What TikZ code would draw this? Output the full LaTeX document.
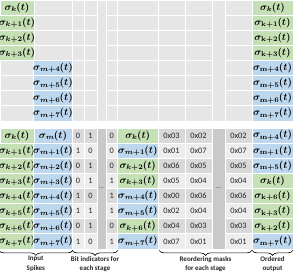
\documentclass[tikz,border=0pt]{standalone}
\usepackage{fontspec}
\setmainfont{Carlito}
\usepackage{bm}
\usetikzlibrary{decorations.pathreplacing}
\definecolor{gcell}{HTML}{C5E0B4}
\definecolor{bcell}{HTML}{BDD7EE}
\definecolor{tgray}{HTML}{E6E6E6}
\definecolor{dgray}{HTML}{D9D9D9}
\definecolor{lgray}{HTML}{EDEDED}
\definecolor{mgray}{HTML}{C9C9C9}
\definecolor{txt}{HTML}{262626}
\newcommand\cellat[7]{\node[cell,#6,minimum width={#3-#2},minimum height={#5-#4}] (#1) at ({(#2+#3)/2},{(#4+#5)/2}) {#7};}
\newcommand\sig[1]{$\bm{\sigma_{#1}\mkern-1mu(t)}$}
\begin{document}
\begin{tikzpicture}[x=1pt,y=-1pt,
  cell/.style={draw=white,line width=0.8pt,inner sep=0pt,anchor=center,font=\fontsize{8.3}{9}\selectfont,text=txt},
  sg/.style={font=\fontsize{9.8}{11}\selectfont,text=black},
  lab/.style={font=\bfseries\fontsize{7}{9.8}\selectfont,align=center,text=txt,inner sep=0pt,anchor=north},
  br/.style={decorate,decoration={brace,amplitude=5pt,mirror},line width=0.6pt}
]
\useasboundingbox (0,0) rectangle (295,279);
% ---------- top section ----------
\foreach \r/\sk/\sm/\ok/\om in {0/k/m+0/k/m,1/k+1/m+1/\mathbf{k+1}/m,2/k+2/m+2/\mathbf{k+2}/m,3/k+3/m+3/\mathbf{k+3}/m,4/k/m+4/k/\mathbf{m+4},5/k/m+5/k/\mathbf{m+5},6/k/m+6/k/\mathbf{m+6},7/k/m+7/k/\mathbf{m+7}}{
  \pgfmathsetmacro\ya{\r*15.125}
  \pgfmathsetmacro\yb{\ya+15.125}
  \ifnum\r<4
    \cellat{t1-\r}{0}{34}{\ya}{\yb}{fill=gcell,sg}{\sig{\sk}}
    \cellat{t2-\r}{34}{72}{\ya}{\yb}{fill=tgray}{}
    \cellat{t12-\r}{252}{293}{\ya}{\yb}{fill=gcell,sg}{\sig{\ok}}
  \else
    \cellat{t1-\r}{0}{34}{\ya}{\yb}{fill=tgray}{}
    \cellat{t2-\r}{34}{72}{\ya}{\yb}{fill=bcell,sg}{\sig{\sm}}
    \cellat{t12-\r}{252}{293}{\ya}{\yb}{fill=bcell,sg}{\sig{\om}}
  \fi
  \cellat{t3-\r}{72}{84}{\ya}{\yb}{fill=tgray}{}
  \cellat{t4-\r}{84}{97}{\ya}{\yb}{fill=tgray}{}
  \cellat{t6-\r}{106}{117.5}{\ya}{\yb}{fill=tgray}{}
  \cellat{t7-\r}{117.5}{158}{\ya}{\yb}{fill=tgray}{}
  \cellat{t8-\r}{158}{185}{\ya}{\yb}{fill=tgray}{}
  \cellat{t9-\r}{185}{212}{\ya}{\yb}{fill=tgray}{}
  \cellat{t11-\r}{225}{252}{\ya}{\yb}{fill=tgray}{}
}
\cellat{t5}{97}{106}{0}{121}{fill=tgray}{}
\cellat{t10}{212}{225}{0}{121}{fill=tgray}{}
% ---------- bottom section ----------
\foreach \r/\sk/\sm/\ba/\bb/\bc/\mcol/\ms/\ma/\mb/\md/\ocol/\os in {
  0/k/m/0/1/0/gcell/k/0x03/0x02/0x02/bcell/\mathbf{m+4},
  1/k+1/m+1/1/0/0/bcell/m+1/0x01/0x07/0x07/bcell/\mathbf{m+1},
  2/k+2/m+2/0/1/0/gcell/k+2/0x06/0x05/0x05/bcell/\mathbf{m+5},
  3/k+3/m+3/0/1/1/gcell/k+3/0x05/0x04/0x04/gcell/k,
  4/k+4/m+4/1/0/1/bcell/m+4/0x00/0x06/0x06/gcell/\mathbf{k+6},
  5/k+5/m+5/1/1/1/bcell/m+5/0x02/0x04/0x04/gcell/\mathbf{k+3},
  6/k+6/m+6/0/1/0/gcell/k+6/0x04/0x03/0x03/gcell/\mathbf{k+2},
  7/k+7/m+7/1/0/1/bcell/m+7/0x07/0x01/0x01/bcell/\mathbf{m+7}}{
  \pgfmathsetmacro\ya{128+\r*15.125}
  \pgfmathsetmacro\yb{\ya+15.125}
  \ifodd\r \def\sh{lgray}\else\def\sh{dgray}\fi
  \cellat{b1-\r}{0}{34}{\ya}{\yb}{fill=gcell,sg}{\sig{\sk}}
  \cellat{b2-\r}{34}{72}{\ya}{\yb}{fill=bcell,sg}{\sig{\sm}}
  \cellat{b3-\r}{72}{84}{\ya}{\yb}{fill=\sh}{\ba}
  \cellat{b4-\r}{84}{97}{\ya}{\yb}{fill=\sh}{\bb}
  \cellat{b6-\r}{106}{117.5}{\ya}{\yb}{fill=\sh}{\bc}
  \cellat{b7-\r}{117.5}{158}{\ya}{\yb}{fill=\mcol,sg}{\sig{\ms}}
  \cellat{b8-\r}{158}{185}{\ya}{\yb}{fill=\sh}{\ma}
  \cellat{b9-\r}{185}{212}{\ya}{\yb}{fill=\sh}{\mb}
  \cellat{b11-\r}{225}{252}{\ya}{\yb}{fill=\sh}{\md}
  \cellat{b12-\r}{252}{293}{\ya}{\yb}{fill=\ocol,sg}{\sig{\os}}
}
\cellat{b5}{97}{106}{128}{249}{fill=mgray,font=\fontsize{6}{6}\selectfont}{\raisebox{1.5pt}{...}}
\cellat{b10}{212}{225}{128}{249}{fill=mgray,font=\fontsize{6}{6}\selectfont}{\raisebox{1.5pt}{...}}
% ---------- braces ----------
\coordinate (i0) at ([shift={(0.5,1)}]b1-7.south west);
\coordinate (i1) at ([shift={(-0.5,1)}]b2-7.south east);
\coordinate (j0) at ([shift={(0.5,1)}]b3-7.south west);
\coordinate (j1) at ([shift={(0,1)}]b6-7.south east);
\coordinate (k0) at ([shift={(1.5,1)}]b8-7.south west);
\coordinate (k1) at ([shift={(-0.5,1)}]b11-7.south east);
\coordinate (l0) at ([shift={(0.5,1)}]b12-7.south west);
\coordinate (l1) at ([shift={(-0.5,1)}]b12-7.south east);
\draw[br] (i0) -- (i1) node[midway,below=5.5pt,lab] (li) {Input\\Spikes};
\draw[br] (j0) -- (j1) node[midway,below=5.5pt,lab] (lj) {Bit indicators for\\each stage};
\draw[br] (k0) -- (k1) node[midway,below=5.5pt,lab] (lk) {Reordering masks\\for each stage};
\draw[br] (l0) -- (l1) node[midway,below=5.5pt,lab] (ll) {Ordered\\output};
\end{tikzpicture}
\end{document}
